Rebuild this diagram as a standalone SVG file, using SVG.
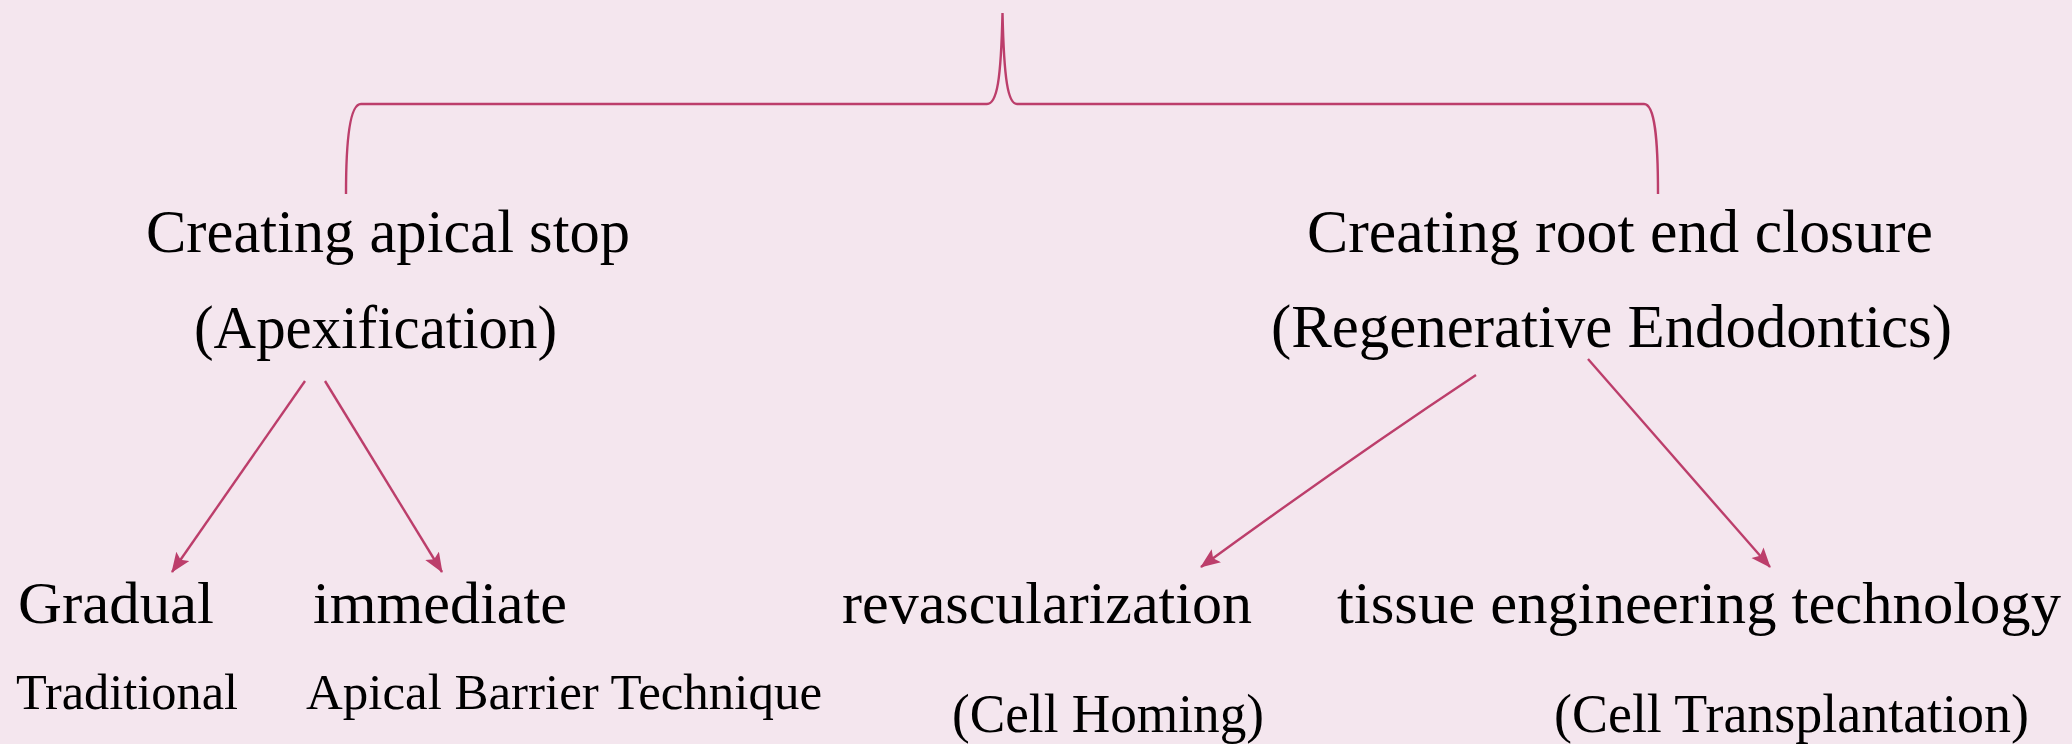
<svg xmlns="http://www.w3.org/2000/svg" width="2072" height="744" viewBox="0 0 2072 744">
<defs>
<marker id="ah" markerUnits="userSpaceOnUse" markerWidth="22" markerHeight="18" refX="19" refY="8" orient="auto">
<path d="M0,0 L20,8 L0,16 L4,8 z" fill="#BC3E6B"/>
</marker>
<style>
.t{font-family:"Liberation Serif","Times New Roman",serif;fill:#000;}
.h{font-size:61px;}
.m{font-size:59px;}
.s{font-size:51px;}
.p{font-size:55px;}
.c{fill:none;stroke:#BC3E6B;stroke-width:2.4;}
.a{marker-end:url(#ah);}
</style>
</defs>
<rect width="2072" height="744" fill="#F4E6EE"/>
<g id="connectors">
<path class="c" d="M346,194 C346,140 350,104 361,104 L987,104 C997,104 1001,80 1002.5,13 C1004,80 1008,104 1017,104 L1644,104 C1655,104 1658,140 1658,194"/>
<line class="c a" x1="305" y1="381" x2="172" y2="572"/>
<line class="c a" x1="325" y1="381" x2="442" y2="572"/>
<path class="c a" d="M1476,375 Q1345,462 1201,567"/>
<line class="c a" x1="1588" y1="359" x2="1770" y2="567"/>
</g>
<g id="node-apical">
<text class="t h" x="146" y="252" textLength="484" lengthAdjust="spacingAndGlyphs">Creating apical stop</text>
<text class="t h" x="194" y="348" textLength="363" lengthAdjust="spacingAndGlyphs">(Apexification)</text>
</g>
<g id="node-root">
<text class="t h" x="1307" y="252" textLength="626" lengthAdjust="spacingAndGlyphs">Creating root end closure</text>
<text class="t h" x="1271" y="347" textLength="681" lengthAdjust="spacingAndGlyphs">(Regenerative Endodontics)</text>
</g>
<g id="node-gradual">
<text class="t m" x="18" y="623" textLength="196" lengthAdjust="spacingAndGlyphs">Gradual</text>
<text class="t s" x="16" y="709" textLength="222" lengthAdjust="spacingAndGlyphs">Traditional</text>
</g>
<g id="node-immediate">
<text class="t m" x="313" y="623" textLength="254" lengthAdjust="spacingAndGlyphs">immediate</text>
<text class="t s" x="306" y="709" textLength="516" lengthAdjust="spacingAndGlyphs">Apical Barrier Technique</text>
</g>
<g id="node-revasc">
<text class="t m" x="842" y="623" textLength="410" lengthAdjust="spacingAndGlyphs">revascularization</text>
<text class="t p" x="952" y="732" textLength="312" lengthAdjust="spacingAndGlyphs">(Cell Homing)</text>
</g>
<g id="node-tissue">
<text class="t m" x="1337" y="623" textLength="724" lengthAdjust="spacingAndGlyphs">tissue engineering technology</text>
<text class="t p" x="1554" y="732" textLength="475" lengthAdjust="spacingAndGlyphs">(Cell Transplantation)</text>
</g>
</svg>
